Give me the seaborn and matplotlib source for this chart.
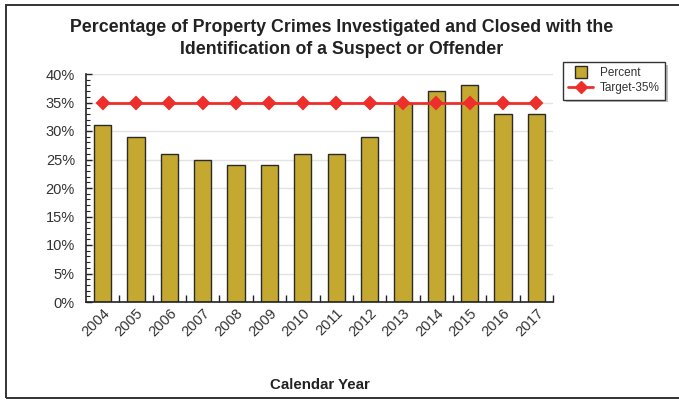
import matplotlib
matplotlib.use("Agg")
import matplotlib.pyplot as plt
import seaborn as sns
import pandas as pd
from matplotlib.patches import Rectangle
from matplotlib.lines import Line2D
from matplotlib.ticker import FixedLocator, MultipleLocator, FuncFormatter

years = ["2004", "2005", "2006", "2007", "2008", "2009", "2010",
         "2011", "2012", "2013", "2014", "2015", "2016", "2017"]
percent = [31, 29, 26, 25, 24, 24, 26, 26, 29, 35, 37, 38, 33, 33]
target = [35] * len(years)

title = ("Percentage of Property Crimes Investigated and Closed with the\n"
         "Identification of a Suspect or Offender")

bar_color = "#C4A82F"
line_color = "#EE2E2A"
text_color = "#333333"

sns.set_theme(style="white")
plt.rcParams["font.family"] = ["Liberation Sans", "DejaVu Sans"]

df = pd.DataFrame({"Year": years, "Percent": percent, "Target": target})

fig = plt.figure(figsize=(6.79, 4.00), dpi=100)
ax = fig.add_axes([86 / 679, 1 - 302 / 400, (553 - 86) / 679, (302 - 74) / 400])

ax.yaxis.grid(True, color="#e3e3e3", linewidth=1.0, zorder=0)
ax.set_axisbelow(True)

sns.barplot(data=df, x="Year", y="Percent", color=bar_color, width=0.52,
            edgecolor="#2a2a2a", linewidth=1.0, saturation=1, ax=ax, zorder=2)
sns.pointplot(data=df, x="Year", y="Target", color=line_color, marker="D",
              markersize=6, linewidth=2.0, ax=ax, zorder=3)

ax.set_xlim(-0.5, len(years) - 0.5)
ax.set_ylim(0, 40)
ax.yaxis.set_major_locator(MultipleLocator(5))
ax.yaxis.set_minor_locator(MultipleLocator(1))
ax.yaxis.set_major_formatter(FuncFormatter(lambda v, p: f"{v:.0f}%"))

ax.xaxis.set_minor_locator(FixedLocator([i + 0.5 for i in range(len(years))]))
ax.tick_params(axis="x", which="major", length=0, pad=3, labelsize=10.5,
               labelcolor=text_color)
ax.tick_params(axis="x", which="minor", direction="in", length=5, width=1,
               color="#222222", bottom=True)
ax.tick_params(axis="y", which="major", direction="in", length=4, width=1,
               color="#222222", left=True, pad=8, labelsize=10.5,
               labelcolor=text_color)
ax.tick_params(axis="y", which="minor", direction="in", length=3, width=0.8,
               color="#222222", left=True)
for lbl in ax.get_xticklabels():
    lbl.set_rotation(45)
    lbl.set_ha("right")
    lbl.set_rotation_mode("anchor")

for side in ("top", "right"):
    ax.spines[side].set_visible(False)
for side in ("left", "bottom"):
    ax.spines[side].set_color("#222222")
    ax.spines[side].set_linewidth(1.2)

ax.set_ylabel("")
ax.set_xlabel("Calendar Year", fontsize=10.8, fontweight="bold",
              color="#222222", labelpad=28)

fig.text(0.503, 1 - 19 / 400, title, ha="center", va="top", fontsize=12.8,
         fontweight="bold", color="#222222", linespacing=1.42)

handles = [
    Line2D([0], [0], linestyle="none", marker="s", markersize=9,
           markerfacecolor=bar_color, markeredgecolor="#2a2a2a",
           markeredgewidth=1.0),
    Line2D([0], [0], color=line_color, marker="D", markersize=6,
           linewidth=2.0),
]
leg = fig.legend(handles, ["Percent", "Target-35%"], loc="upper left",
                 bbox_to_anchor=(563 / 679, 1 - 62 / 400), fontsize=8.5,
                 frameon=True, fancybox=False,
                 shadow={"facecolor": "#b0b0b0", "edgecolor": "none",
                         "alpha": 0.8},
                 borderpad=0.45, handlelength=2.1, handletextpad=0.6,
                 labelspacing=0.25, borderaxespad=0)
leg.get_frame().set_edgecolor("#333333")
leg.get_frame().set_linewidth(1.0)
for t in leg.get_texts():
    t.set_color(text_color)

fig.patches.append(Rectangle((6 / 679, 2 / 400), 1.1, 1 - 7 / 400,
                             transform=fig.transFigure, fill=False,
                             edgecolor="#333333", linewidth=1.4))

fig.savefig("out.png", dpi=100)
